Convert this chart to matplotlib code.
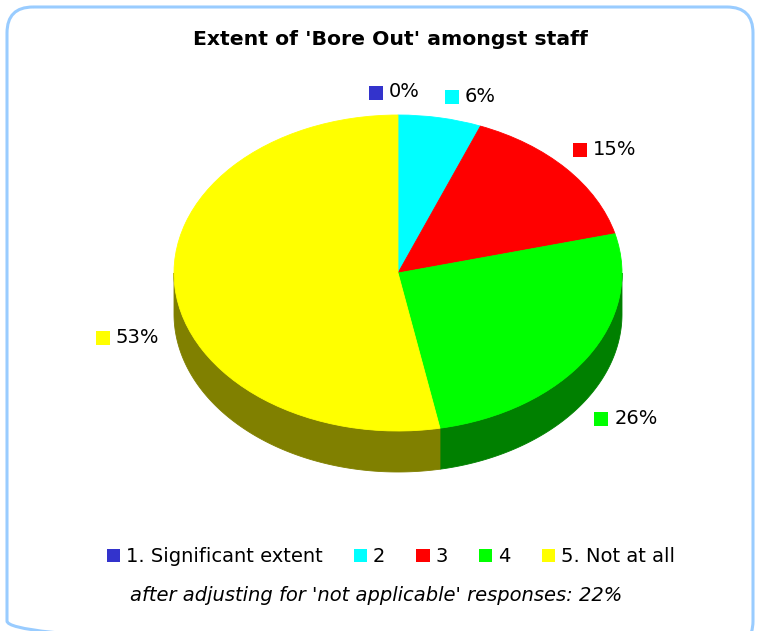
import numpy as np
import matplotlib
matplotlib.use("Agg")
import matplotlib.pyplot as plt
from matplotlib.patches import FancyBboxPatch, Rectangle, Patch

# survey answers, share of staff (%)
categories = ["1. Significant extent", "2", "3", "4", "5. Not at all"]
shares = [0, 6, 15, 26, 53]
share_labels = ["0%", "6%", "15%", "26%", "53%"]
title = "Extent of 'Bore Out' amongst staff"
footnote = "after adjusting for 'not applicable' responses: 22%"

top_colors = ["#3333cc", "#00ffff", "#ff0000", "#00ff00", "#ffff00"]
side_colors = ["#1a1a66", "#008080", "#800000", "#008000", "#808000"]

# label placement relative to the rim point at each slice's mid angle (px)
label_offsets = [(-29, -18), (5, -16), (7, -14), (7, 66), (-79, 55)]

W, H = 757, 631
fig = plt.figure(figsize=(W / 100, H / 100), dpi=100)
fig.patch.set_facecolor("white")

# full-figure pixel canvas for the frame, texts and legend
bg = fig.add_axes([0, 0, 1, 1])
bg.set_xlim(0, W)
bg.set_ylim(H, 0)
bg.axis("off")

bg.add_patch(FancyBboxPatch((7, 7), 746, 640,
                            boxstyle="round,pad=0,rounding_size=26",
                            fc="none", ec="#99ccff", lw=2.2, clip_on=False))

# pie: top ellipse 448 x 316 px, rim depth 41 px
cx_px, cy_px, a_px, b_px, depth_px = 398, 273, 224, 158, 41
depth = depth_px / b_px
pie_ax = fig.add_axes([(cx_px - a_px) / W, (H - (cy_px + b_px + depth_px)) / H,
                       2 * a_px / W, (2 * b_px + depth_px) / H])

# slice boundaries, degrees clockwise from 12 o'clock
fracs = np.array(shares, dtype=float) / sum(shares)
ends = np.cumsum(fracs) * 360
starts = ends - fracs * 360

# front rim of the cylinder (visible between 90 and 270 degrees)
for s, e, col in zip(starts, ends, side_colors):
    lo, hi = max(s, 90), min(e, 270)
    if lo >= hi:
        continue
    t = np.radians(np.linspace(lo, hi, 200))
    xs = np.concatenate([np.sin(t), np.sin(t[::-1])])
    ys = np.concatenate([np.cos(t), np.cos(t[::-1]) - depth])
    pie_ax.fill(xs, ys, color=col, lw=0.6, ec=col, clip_on=False)

wedges, _ = pie_ax.pie(shares, colors=top_colors, startangle=90,
                       counterclock=False, radius=1,
                       wedgeprops=dict(linewidth=0))
for w, v in zip(wedges, shares):
    w.set_clip_on(False)
    if v > 0:
        w.set_edgecolor(w.get_facecolor())
        w.set_linewidth(0.6)

pie_ax.set_aspect("auto")
pie_ax.set_xlim(-1, 1)
pie_ax.set_ylim(-1 - depth, 1)
pie_ax.axis("off")

# data labels with a coloured key square
fig.canvas.draw()
mids = np.radians((starts + ends) / 2)
for m, lab, col, (ox, oy) in zip(mids, share_labels, top_colors, label_offsets):
    dx, dy = pie_ax.transData.transform((np.sin(m), np.cos(m)))
    x0, base = dx + ox, (H - dy) + oy
    bg.add_patch(Rectangle((x0, base - 11.5), 14, 14, fc=col, ec="none"))
    bg.text(x0 + 20, base, lab, fontsize=14, va="baseline", ha="left")

bg.text(390.5, 45, title, fontsize=14.7, fontweight="bold",
        ha="center", va="baseline")
bg.text(130, 601, footnote, fontsize=14, style="italic",
        ha="left", va="baseline")

handles = [Patch(fc=c, ec="none") for c in top_colors]
bg.legend(handles, categories, ncol=5, loc="center left",
          bbox_to_anchor=(107, 557), bbox_transform=bg.transData,
          frameon=False, fontsize=14, handlelength=0.68, handleheight=0.68,
          handletextpad=0.3, columnspacing=1.6, borderpad=0,
          borderaxespad=0)

fig.savefig("out.png", dpi=100)
